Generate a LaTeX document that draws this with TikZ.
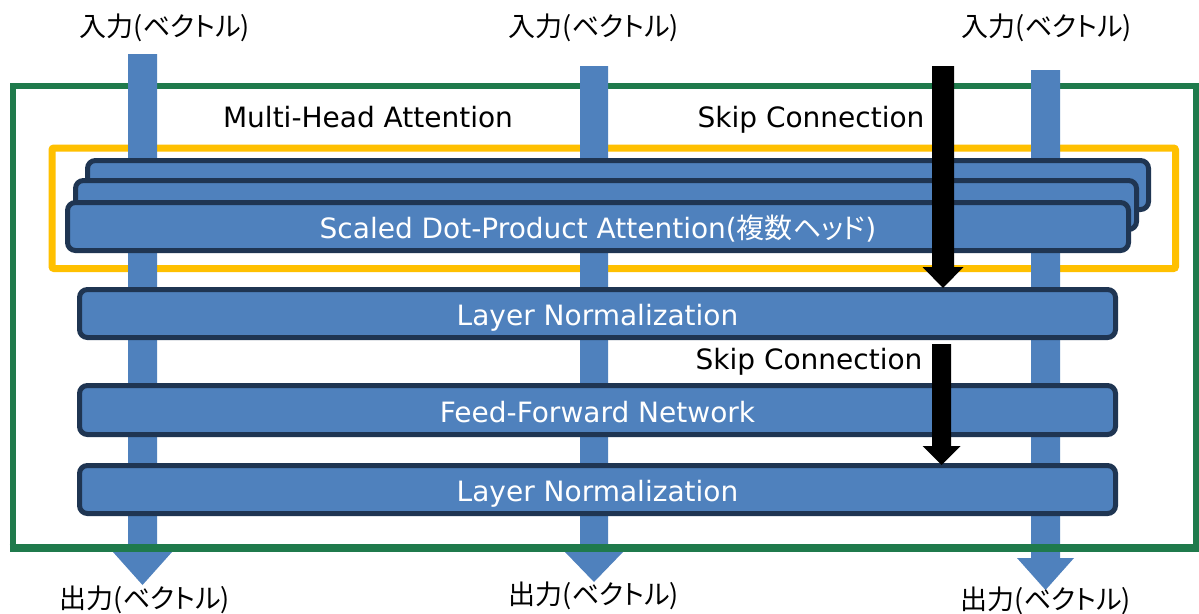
\documentclass[tikz,border=0pt]{standalone}
\usepackage{fontspec}
\setmainfont{DejaVu Sans}
\newfontfamily\jp[RawFeature=+palt]{Noto Sans CJK JP}
\definecolor{colblue}{HTML}{4F81BD}
\definecolor{boxedge}{HTML}{1F3552}
\definecolor{framegreen}{HTML}{1F7A4C}
\definecolor{frameyellow}{HTML}{FFC000}
\tikzset{
  blockbox/.style={draw=boxedge, line width=5pt, fill=colblue, rounded corners=8pt,
    text=white, font=\fontsize{28}{30}\selectfont, inner sep=0pt,
    text height=24.5pt, text depth=0pt},
  plain/.style={font=\fontsize{28}{30}\selectfont, inner sep=0pt, text=black,
    text height=20.4pt, text depth=0pt},
  jplabel/.style={font=\jp\fontsize{27}{30}\selectfont, inner sep=0pt, text=black},
}
\newcommand{\colarrow}[6]{% x, top, headstart, tip, halfshaft, halfhead
  \fill[colblue] (#1-#5,#2) -- (#1+#5,#2) -- (#1+#5,#3) -- (#1+#6,#3) -- (#1,#4)
    -- (#1-#6,#3) -- (#1-#5,#3) -- cycle;}
\newcommand{\blackarrow}[6]{%
  \fill[black] (#1-#5,#2) -- (#1+#5,#2) -- (#1+#5,#3) -- (#1+#6,#3) -- (#1,#4)
    -- (#1-#6,#3) -- (#1-#5,#3) -- cycle;}
\begin{document}
\begin{tikzpicture}[x=1pt,y=-1pt]
\useasboundingbox (0,0) rectangle (1199,613);
\fill[white] (0,0) rectangle (1199,613);
% frames
\draw[framegreen, line width=6pt] (12.5,85.5) rectangle (1196,548);
\draw[frameyellow, line width=7pt, rounded corners=2pt] (52,148) rectangle (1175.5,268.5);
% input labels
\node[jplabel] (inL) at (165,28) {入力(ベクトル)};
\node[jplabel] (inM) at (594,28) {入力(ベクトル)};
\node[jplabel] (inR) at (1047,28) {入力(ベクトル)};
% column arrows
\colarrow{142.5}{54}{552}{585}{14.5}{29.5}
\colarrow{594}{66}{552}{582}{14}{29}
\colarrow{1045.5}{70}{558}{590}{14.5}{28.5}
\draw[framegreen, line width=8pt] (9.5,548) -- (1199,548);
% output labels
\node[jplabel] (outL) at (145,600) {出力(ベクトル)};
\node[jplabel] (outM) at (594,596) {出力(ベクトル)};
\node[jplabel] (outR) at (1046,601) {出力(ベクトル)};
% stacked attention heads
\node[blockbox, minimum width=1061pt, minimum height=49pt] (h3) at (618,185) {};
\node[blockbox, minimum width=1061pt, minimum height=49pt] (h2) at (606,205) {};
\node[blockbox, minimum width=1061pt, minimum height=48pt] (h1) at (598,226.5)
  {Scaled Dot-Product Attention({\jp 複数ヘッド})};
\node[blockbox, minimum width=1036pt, minimum height=48pt] (ln1) at (597.5,313.5) {Layer Normalization};
\node[blockbox, minimum width=1036pt, minimum height=49pt] (ffn) at (597.5,410) {Feed-Forward Network};
\node[blockbox, minimum width=1036pt, minimum height=48pt] (ln2) at (597.5,489.5) {Layer Normalization};
% labels
\node[plain] (mha) at (368,117.5) {Multi-Head Attention};
\node[plain] (skip1) at (811,117.5) {Skip Connection};
\node[plain] (skip2) at (809,359) {Skip Connection};
% skip arrows
\blackarrow{943}{66}{267}{288}{11}{20.5}
\blackarrow{941.5}{344}{446}{465}{9.5}{19}
\end{tikzpicture}
\end{document}
